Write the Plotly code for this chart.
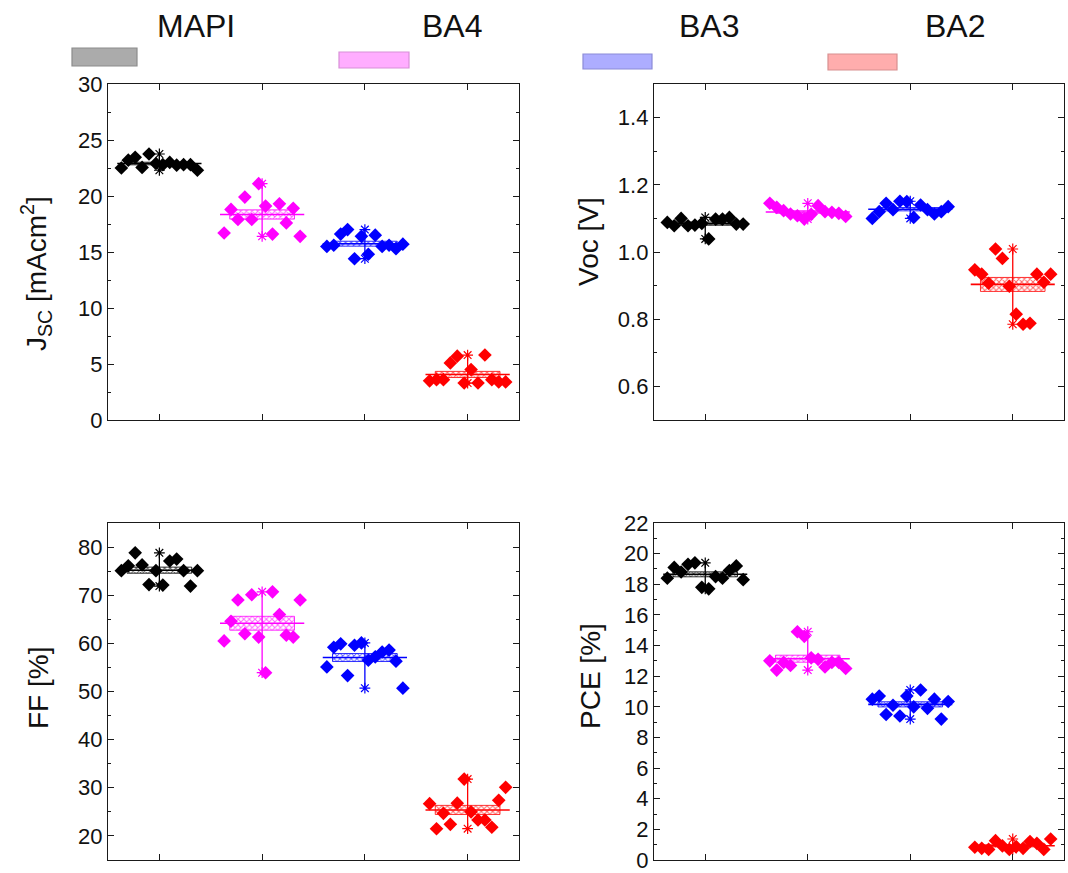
import numpy as np
import plotly.graph_objects as go

# ---- data -------------------------------------------------------------
groups = ["MAPI", "BA4", "BA3", "BA2"]
colors = ["#000000", "#FF00FF", "#0000FF", "#FF0000"]
legend_fill = ["#ABABAB", "#FFADFF", "#ADADFF", "#FFADAD"]
legend_edge = ["#8C8C8C", "#D890D8", "#8C8CD8", "#D89090"]

jsc_mapi = [22.5, 23.2, 23.45, 22.55, 23.75, 22.9, 22.8, 23.0, 22.75, 22.8, 22.8, 22.3]
jsc_ba4 = [16.7, 18.8, 17.9, 19.9, 17.9, 21.1, 19.1, 16.6, 19.3, 17.6, 18.9, 16.4]
jsc_ba3 = [15.5, 15.6, 16.6, 17.0, 14.4, 16.4, 14.8, 16.5, 15.5, 15.6, 15.3, 15.7]
jsc_ba2 = [3.5, 3.6, 3.6, 5.1, 5.7, 3.3, 4.5, 3.3, 5.8, 3.6, 3.4, 3.4]

voc_mapi = [1.088, 1.078, 1.100, 1.078, 1.080, 1.085, 1.039, 1.098, 1.098, 1.103, 1.083, 1.083]
voc_ba4 = [1.145, 1.133, 1.123, 1.113, 1.108, 1.098, 1.112, 1.138, 1.120, 1.118, 1.115, 1.106]
voc_ba3 = [1.100, 1.120, 1.145, 1.126, 1.151, 1.150, 1.103, 1.140, 1.126, 1.113, 1.120, 1.135]
voc_ba2 = [0.947, 0.934, 0.907, 1.009, 0.981, 0.898, 0.815, 0.785, 0.788, 0.934, 0.910, 0.934]

ff_mapi = [75.1, 76.1, 78.8, 76.3, 72.2, 75.1, 72.1, 77.1, 77.5, 75.1, 71.9, 75.1]
ff_ba4 = [60.5, 64.6, 69.0, 62.0, 70.1, 61.3, 53.9, 70.7, 66.0, 61.7, 61.3, 69.0]
ff_ba3 = [55.1, 59.2, 59.9, 53.3, 59.6, 60.1, 56.5, 57.2, 58.2, 58.6, 56.3, 50.7]
ff_ba2 = [26.7, 21.5, 24.7, 22.4, 26.8, 31.8, 25.0, 23.3, 23.3, 21.8, 27.4, 30.1]

pce_mapi = [18.4, 19.1, 18.8, 19.3, 19.4, 17.8, 17.7, 18.5, 18.4, 18.9, 19.2, 18.3]
pce_ba4 = [13.0, 12.4, 12.9, 12.7, 14.9, 14.6, 13.2, 13.1, 12.6, 12.9, 12.9, 12.5]
pce_ba3 = [10.5, 10.7, 9.5, 10.1, 9.4, 10.7, 10.0, 11.1, 9.9, 10.5, 9.2, 10.35]
pce_ba2 = [0.83, 0.76, 0.69, 1.26, 0.92, 0.69, 0.87, 0.76, 1.2, 1.09, 0.69, 1.37]

# panel definitions: values, axis title, y range, major / minor tick step
panels = [
    dict(vals=[jsc_mapi, jsc_ba4, jsc_ba3, jsc_ba2],
         title="J<sub>SC</sub> [mAcm<sup>2</sup>]", yrange=[0, 30], dtick=5, minor=2.5, fmt=""),
    dict(vals=[voc_mapi, voc_ba4, voc_ba3, voc_ba2],
         title="Voc [V]", yrange=[0.5, 1.5], dtick=0.2, minor=0.1, fmt=".1f"),
    dict(vals=[ff_mapi, ff_ba4, ff_ba3, ff_ba2],
         title="FF [%]", yrange=[15, 85], dtick=10, minor=5, fmt=""),
    dict(vals=[pce_mapi, pce_ba4, pce_ba3, pce_ba2],
         title="PCE [%]", yrange=[0, 22], dtick=2, minor=1, fmt=""),
]

# ---- layout geometry (pixels) -------------------------------------------
W, H = 1068, 873
FONT = "Liberation Sans, Arial, sans-serif"


def px_x(x):
    return x / W


def px_y(y):
    return 1 - y / H


# left, right, top, bottom of each plot frame
frames = [(108, 519, 84, 420), (654, 1064, 84, 420),
          (108, 519, 523, 860), (654, 1064, 523, 860)]
# axis-title centre positions
title_pos = [(36, 274), (588, 242), (38, 688), (590, 676)]

BOX_W = 0.63
MEAN_HALF = 0.41
JITTER = 0.37

fig = go.Figure()
layout_axes = {}

for k, (panel, frame) in enumerate(zip(panels, frames)):
    n = k + 1
    xa = "x" if n == 1 else f"x{n}"
    ya = "y" if n == 1 else f"y{n}"
    for i, (vals, col) in enumerate(zip(panel["vals"], colors)):
        v = np.asarray(vals, dtype=float)
        pos = i + 1
        mean = v.mean()
        se = v.std(ddof=1) / np.sqrt(len(v))
        lo, hi = mean - se, mean + se
        # box: mean +/- standard error, cross-hatched
        fig.add_trace(go.Bar(
            x=[pos], y=[hi - lo], base=[lo], width=BOX_W,
            xaxis=xa, yaxis=ya, showlegend=False, hoverinfo="skip",
            marker=dict(color="white",
                        line=dict(color=col, width=0.8),
                        pattern=dict(shape="x", fgcolor=col, fgopacity=0.6,
                                     bgcolor="white", size=4, solidity=0.45)),
        ))
        # whisker from min to max
        fig.add_trace(go.Scatter(
            x=[pos, pos], y=[v.min(), v.max()], mode="lines",
            line=dict(color=col, width=1.3), xaxis=xa, yaxis=ya,
            showlegend=False, hoverinfo="skip"))
        # mean line
        fig.add_trace(go.Scatter(
            x=[pos - MEAN_HALF, pos + MEAN_HALF], y=[mean, mean], mode="lines",
            line=dict(color=col, width=1.6), xaxis=xa, yaxis=ya,
            showlegend=False, hoverinfo="skip"))
        # individual devices
        offs = np.linspace(-JITTER, JITTER, len(v))
        fig.add_trace(go.Scatter(
            x=pos + offs, y=v, mode="markers",
            marker=dict(symbol="diamond", size=10.5, color=col,
                        line=dict(width=0)),
            xaxis=xa, yaxis=ya, showlegend=False, name=groups[i]))
        # min / max markers
        fig.add_trace(go.Scatter(
            x=[pos, pos], y=[v.min(), v.max()], mode="markers",
            marker=dict(symbol="asterisk-open", size=9, color=col,
                        line=dict(color=col, width=1.2)),
            xaxis=xa, yaxis=ya, showlegend=False, hoverinfo="skip"))

    l, r, t, b = frame
    common = dict(showline=True, linecolor="#1a1a1a", linewidth=1.4,
                  mirror="ticks", ticks="inside", tickcolor="#1a1a1a",
                  showgrid=False, zeroline=False, automargin=False)
    layout_axes["xaxis" if n == 1 else f"xaxis{n}"] = dict(
        common, domain=[px_x(l), px_x(r)], range=[0.5, 4.5],
        tickvals=[1, 2, 3, 4], showticklabels=False, ticklen=6,
        anchor=ya)
    layout_axes["yaxis" if n == 1 else f"yaxis{n}"] = dict(
        common, domain=[px_y(b), px_y(t)], range=panel["yrange"],
        dtick=panel["dtick"], tick0=0, ticklen=6, tickformat=panel["fmt"],
        tickfont=dict(family=FONT, size=22, color="#111111"),
        minor=dict(ticks="inside", ticklen=3, dtick=panel["minor"],
                   tick0=0, tickcolor="#1a1a1a"),
        anchor=xa)

annotations = []
for panel, (tx, ty) in zip(panels, title_pos):
    annotations.append(dict(
        text=panel["title"], x=px_x(tx), y=px_y(ty), xref="paper", yref="paper",
        xanchor="center", yanchor="middle", textangle=-90, showarrow=False,
        font=dict(family=FONT, size=28, color="#111111")))

# group key along the top
key_rects = [(72, 48, 137, 66), (339, 52, 409, 68), (583, 54, 652, 69), (828, 54, 897, 70)]
key_text_x = [155, 420, 677, 923]
shapes = []
for g, rect, tx, fc, ec in zip(groups, key_rects, key_text_x, legend_fill, legend_edge):
    x0, y0, x1, y1 = rect
    shapes.append(dict(type="rect", xref="paper", yref="paper",
                       x0=px_x(x0), x1=px_x(x1), y0=px_y(y1), y1=px_y(y0),
                       fillcolor=fc, line=dict(color=ec, width=1.2)))
    annotations.append(dict(
        text=g, x=px_x(tx), y=px_y(26), xref="paper", yref="paper",
        xanchor="left", yanchor="middle", showarrow=False,
        font=dict(family=FONT, size=32, color="#111111")))

fig.update_layout(
    width=W, height=H, autosize=False, margin=dict(l=0, r=0, t=0, b=0, pad=0),
    paper_bgcolor="white", plot_bgcolor="white",
    barmode="overlay", showlegend=False,
    annotations=annotations, shapes=shapes,
    **layout_axes,
)

fig.write_html("out.html")
